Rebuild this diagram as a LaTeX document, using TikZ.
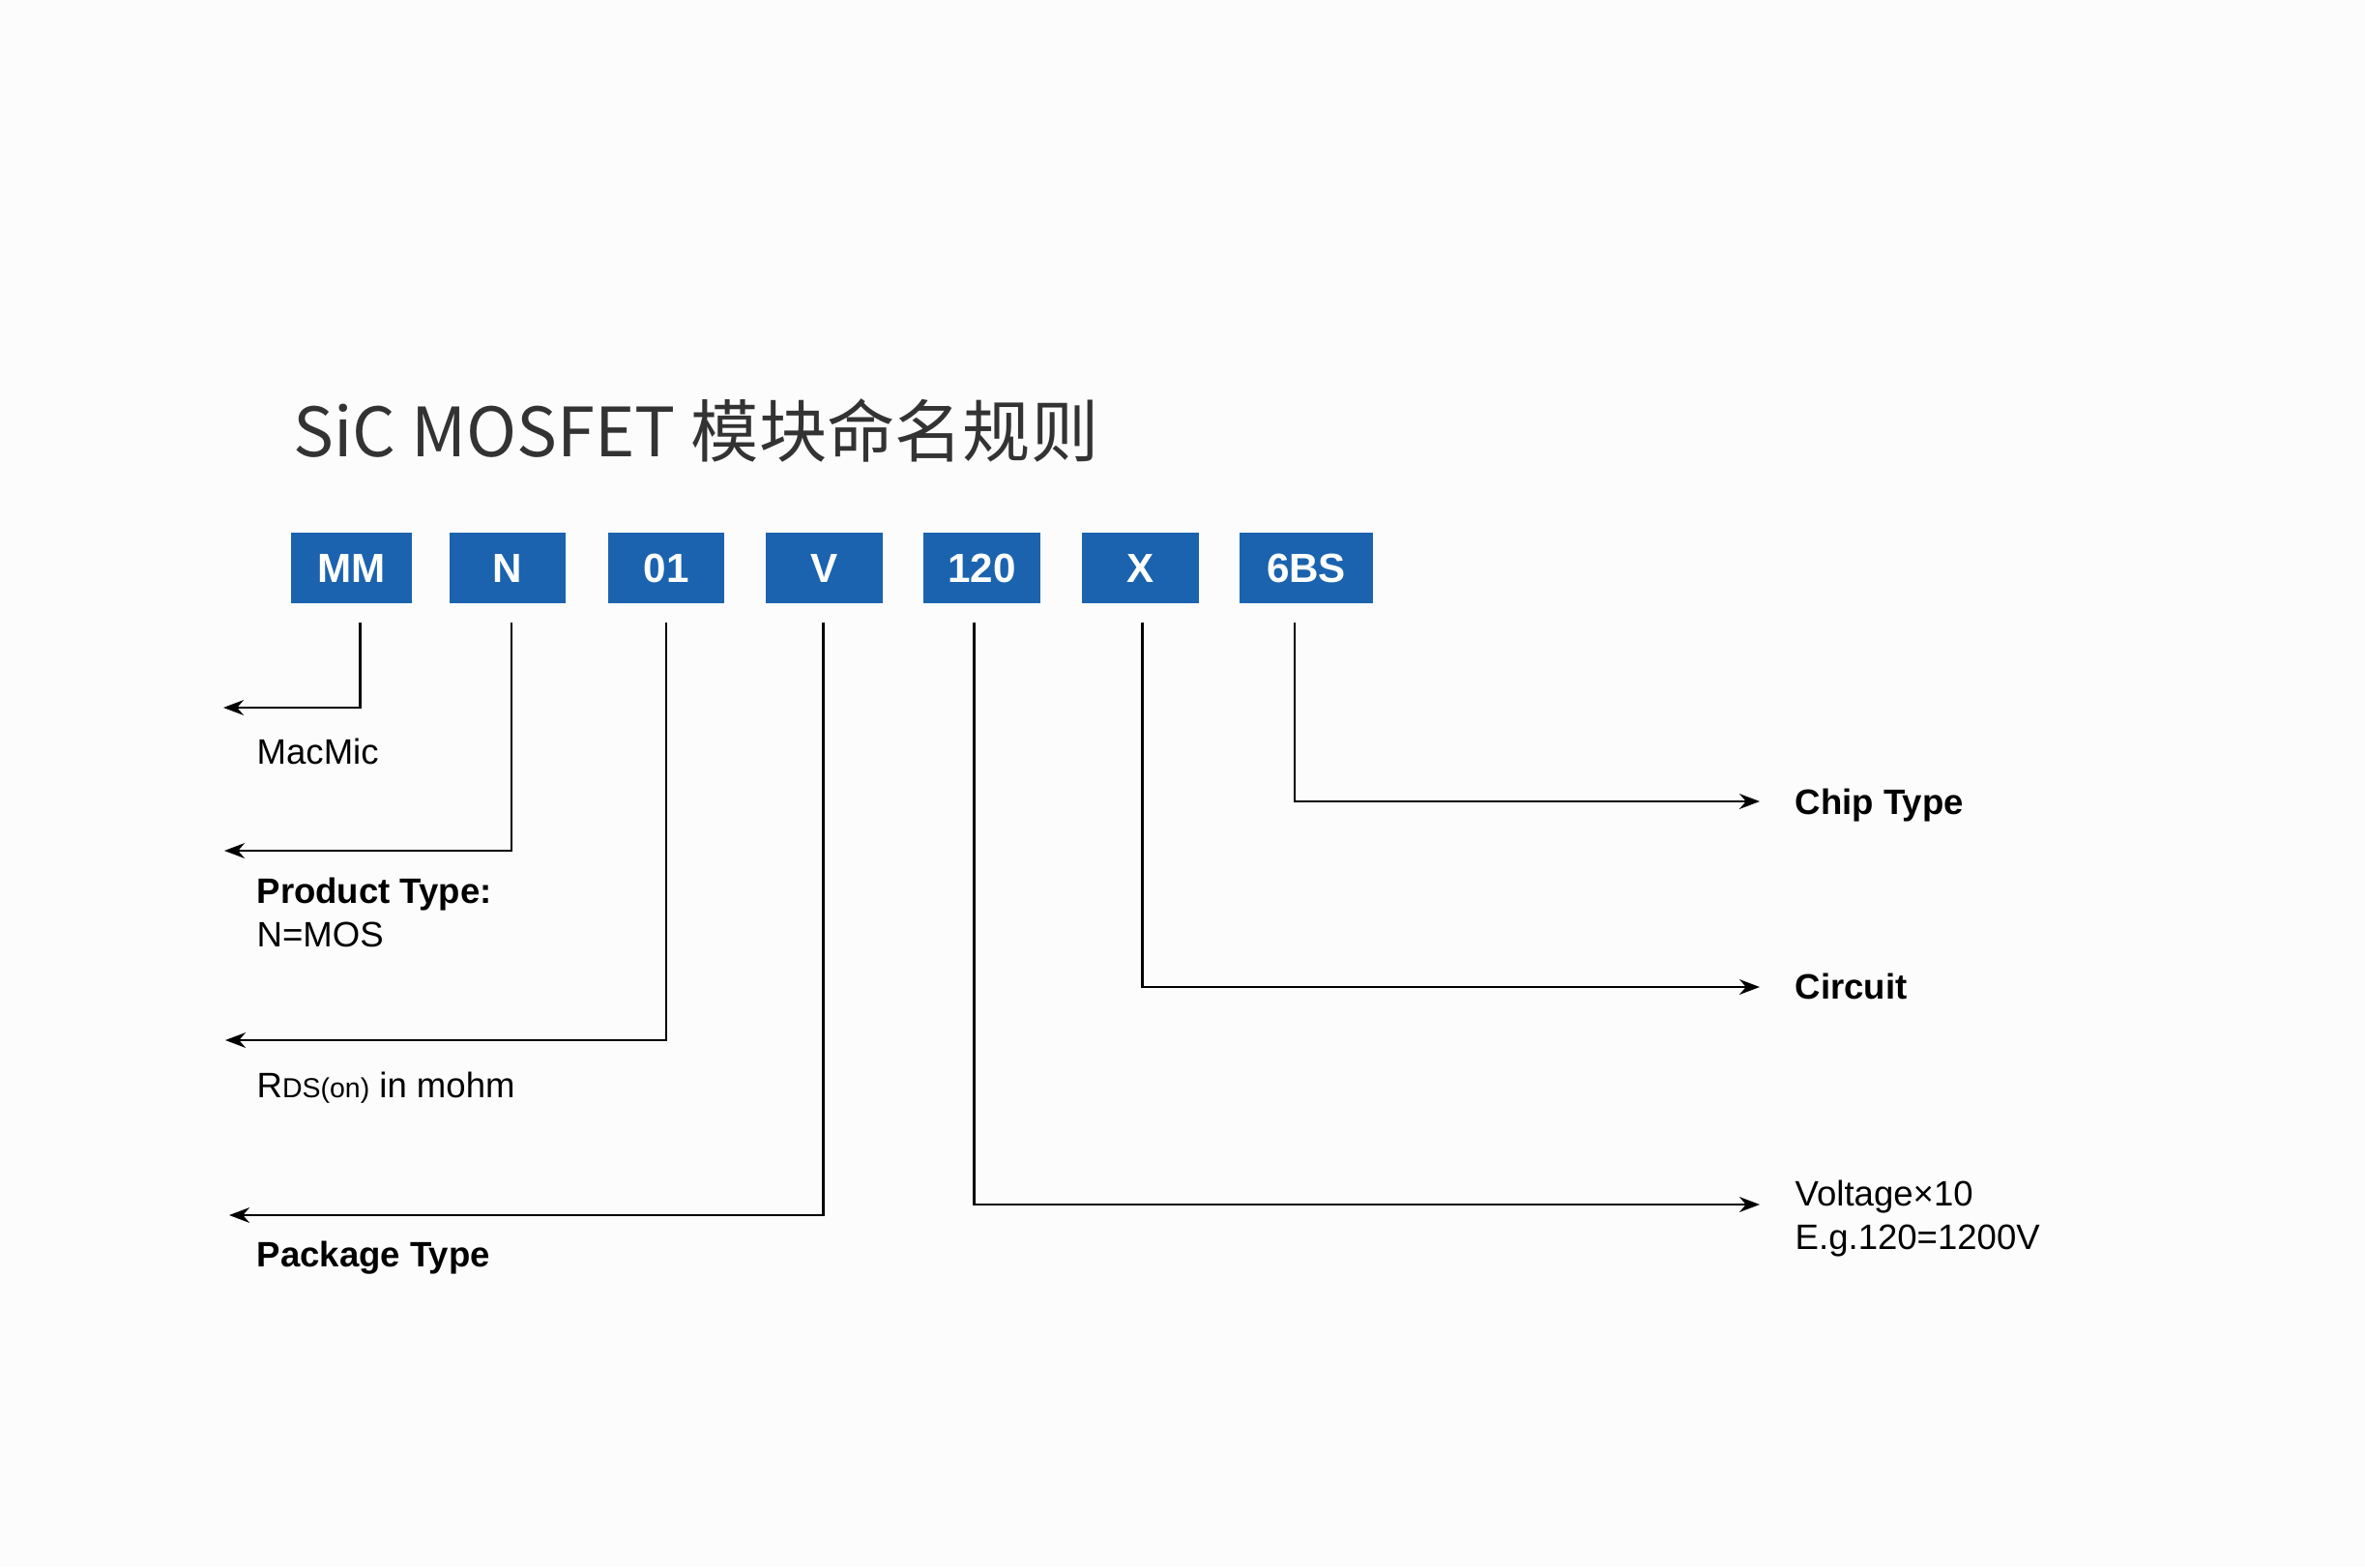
\documentclass[tikz,border=0pt]{standalone}
\usepackage{fontspec}
\setmainfont{Liberation Sans}
\newfontfamily\cjk{Noto Sans CJK SC}
\usetikzlibrary{arrows.meta,positioning}
\definecolor{codeblue}{RGB}{27,99,175}
\definecolor{titlegray}{RGB}{51,51,51}
\definecolor{paper}{RGB}{252,252,252}

\begin{document}
\begin{tikzpicture}
	\fill[paper] (0,0) rectangle (24.46,16.21);
	% Define the box, label and arrow styles
	\tikzstyle{codebox} = [fill=codeblue, text=white, minimum height=0.73cm, inner sep=0pt, font=\fontsize{12}{14}\selectfont\bfseries];
	\tikzstyle{lbl} = [inner sep=0pt, anchor=base west, font=\fontsize{10.4}{12.8}\selectfont];
	\tikzstyle{conn} = [line width=0.6pt, -{Stealth[length=6pt,width=4.5pt]}];
	
	% Title
	\node[anchor=base west, inner sep=0pt, text=titlegray, font=\cjk\fontsize{20}{24}\selectfont] (title) at (3.03,11.49) {SiC MOSFET 模块命名规则};
	
	% Draw the 7 code boxes in one row
	\foreach \n/\x/\w/\txt in {brand/3.635/1.25/MM, ptype/5.25/1.20/N, rds/6.89/1.20/01, pkg/8.525/1.21/V, volt/10.155/1.21/120, circ/11.795/1.21/X, chip/13.51/1.38/6BS}
	\node[codebox, minimum width=\w cm] (\n) at (\x,10.335) {\txt};
	
	% Free ends of the arrows
	\foreach \n/\x/\y in {brand/2.31/8.89, ptype/2.32/7.41, rds/2.33/5.45, pkg/2.37/3.64, volt/18.20/3.75, circ/18.20/6.00, chip/18.20/7.92}
	\coordinate (\n end) at (\x,\y);
	
	% Draw the connectors
	\foreach \n/\dx in {brand/0.09, ptype/0.04, rds/0, pkg/-0.01, volt/-0.08, circ/0.02, chip/-0.12}
	\draw[conn] ([xshift=\dx cm, yshift=-0.19cm]\n.south) |- (\n end);
	
	% Left labels
	\node[lbl] (brandlbl) at (2.65,8.31) {MacMic};
	\node[lbl, align=left, anchor=north west] (ptypelbl) at (2.65,7.14) {\textbf{Product Type:}\\N=MOS};
	\node[lbl] (rdslbl) at (2.65,4.86) {R{\fontsize{8.1}{10}\selectfont DS(on)} in mohm};
	\node[lbl, font=\fontsize{10.4}{12.8}\selectfont\bfseries] (pkglbl) at (2.65,3.11) {Package Type};
	
	% Right labels
	\node[lbl, font=\fontsize{10.4}{12.8}\selectfont\bfseries] (chiplbl) at (18.56,7.79) {Chip Type};
	\node[lbl, font=\fontsize{10.4}{12.8}\selectfont\bfseries] (circlbl) at (18.56,5.88) {Circuit};
	\node[lbl, align=left, anchor=north west] (voltlbl) at (18.56,4.01) {Voltage×10\\E.g.120=1200V};
\end{tikzpicture}
\end{document}
